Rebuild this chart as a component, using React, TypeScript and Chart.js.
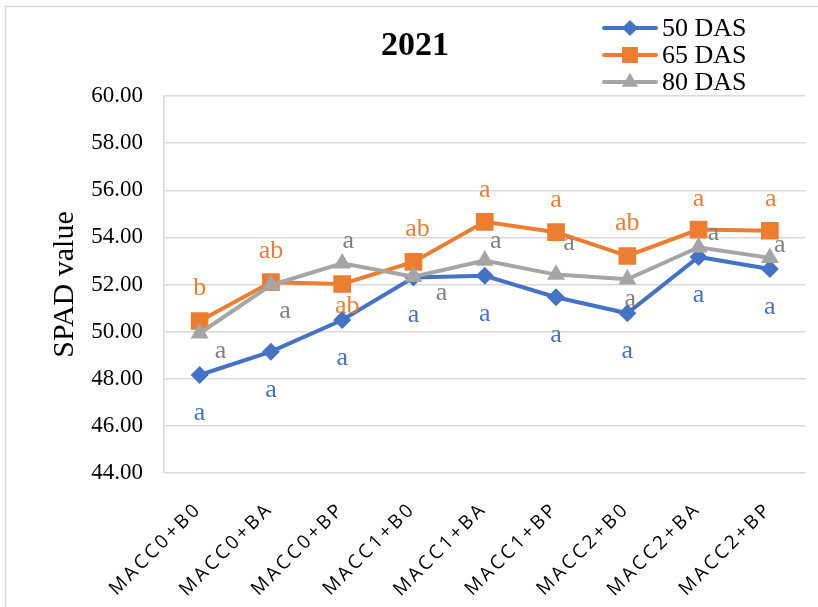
import React, { useEffect, useRef } from 'react';
import { Chart, registerables } from 'chart.js';

Chart.register(...registerables);

// ---- data ----
const categories = ['MACC0+B0', 'MACC0+BA', 'MACC0+BP', 'MACC1+B0', 'MACC1+BA', 'MACC1+BP', 'MACC2+B0', 'MACC2+BA', 'MACC2+BP'];
const yTicks = { min: 44, max: 60, step: 2 };
const chartTitle = '2021';
const yAxisTitle = 'SPAD value';

const das50 = [48.16, 49.15, 50.49, 52.3, 52.37, 51.46, 50.78, 53.17, 52.66];
const das65 = [50.45, 52.1, 52.02, 52.96, 54.66, 54.22, 53.21, 54.33, 54.28];
const das80 = [49.93, 51.98, 52.9, 52.33, 53.02, 52.42, 52.22, 53.58, 53.13];

const letters50 = ['a', 'a', 'a', 'a', 'a', 'a', 'a', 'a', 'a'];
const letters65 = ['b', 'ab', 'ab', 'ab', 'a', 'a', 'ab', 'a', 'a'];
const letters80 = ['a', 'a', 'a', 'a', 'a', 'a', 'a', 'a', 'a'];

// ---- label placement (pixel offsets from each point, layout only) ----
const lblDx50 = [0, 0, 0, 0, 0, 0, 0, 0, 0];
const lblDy50 = [45, 45, 45, 45, 45, 45, 45, 45, 45];
const lblDx65 = [0, 0, 5, 4, 0, 0, 0, 0, 1];
const lblDy65 = [-26, -24, 29, -26, -25, -25, -26, -24, -25];
const lblDx80 = [21, 14, 6, 28, 11, 13, 3, 15, 10];
const lblDy80 = [25, 33, -15, 23, -12, -25, 27, -7, -6];

const SERIF = '"Liberation Serif", "Times New Roman", serif';
const SANS = '"Open Sans", "Noto Sans", sans-serif';

type Series = {
  label: string;
  data: number[];
  color: string;
  textColor: string;
  style: 'rectRot' | 'rect' | 'triangle';
  radius: number;
  letters: string[];
  dx: number[];
  dy: number[];
};

const series: Series[] = [
  { label: '50 DAS', data: das50, color: '#4472C4', textColor: '#4472C4', style: 'rectRot', radius: 9, letters: letters50, dx: lblDx50, dy: lblDy50 },
  { label: '65 DAS', data: das65, color: '#ED7D31', textColor: '#ED7D31', style: 'rect', radius: 12.5, letters: letters65, dx: lblDx65, dy: lblDy65 },
  { label: '80 DAS', data: das80, color: '#A5A5A5', textColor: '#808080', style: 'triangle', radius: 10.4, letters: letters80, dx: lblDx80, dy: lblDy80 },
];

function drawMarker(ctx: CanvasRenderingContext2D, style: string, x: number, y: number, r: number, color: string) {
  ctx.save();
  ctx.fillStyle = color;
  ctx.beginPath();
  if (style === 'rectRot') {
    ctx.moveTo(x - r, y);
    ctx.lineTo(x, y - r);
    ctx.lineTo(x + r, y);
    ctx.lineTo(x, y + r);
  } else if (style === 'rect') {
    const s = Math.SQRT1_2 * r;
    ctx.rect(x - s, y - s, 2 * s, 2 * s);
  } else {
    const h = r * Math.sin(Math.PI / 3);
    ctx.moveTo(x, y - r);
    ctx.lineTo(x + h, y + r / 2);
    ctx.lineTo(x - h, y + r / 2);
  }
  ctx.closePath();
  ctx.fill();
  ctx.restore();
}

export default function App() {
  const ref = useRef<HTMLCanvasElement>(null);

  useEffect(() => {
    const canvas = ref.current;
    if (!canvas) return;

    const framePlugin = {
      id: 'frame',
      beforeDraw(chart: any) {
        const ctx = chart.ctx as CanvasRenderingContext2D;
        ctx.save();
        ctx.fillStyle = '#ffffff';
        ctx.fillRect(0, 0, chart.width, chart.height);
        ctx.strokeStyle = '#D9D9D9';
        ctx.lineWidth = 1.5;
        ctx.beginPath();
        ctx.moveTo(5.5, chart.height + 5);
        ctx.lineTo(5.5, 6.5);
        ctx.lineTo(chart.width + 5, 6.5);
        ctx.stroke();
        ctx.restore();
      },
    };

    const labelsPlugin = {
      id: 'pointLetters',
      afterDatasetsDraw(chart: any) {
        const ctx = chart.ctx as CanvasRenderingContext2D;
        ctx.save();
        ctx.font = `26px ${SERIF}`;
        ctx.textAlign = 'center';
        ctx.textBaseline = 'alphabetic';
        series.forEach((s, di) => {
          const meta = chart.getDatasetMeta(di);
          meta.data.forEach((pt: any, i: number) => {
            ctx.fillStyle = s.textColor;
            ctx.fillText(s.letters[i], pt.x + s.dx[i], pt.y + s.dy[i]);
          });
        });
        ctx.restore();
      },
    };

    const decorPlugin = {
      id: 'decor',
      afterDraw(chart: any) {
        const ctx = chart.ctx as CanvasRenderingContext2D;
        const area = chart.chartArea;
        // title
        ctx.save();
        ctx.fillStyle = '#000';
        ctx.font = `bold 34px ${SERIF}`;
        ctx.textAlign = 'center';
        ctx.textBaseline = 'alphabetic';
        ctx.fillText(chartTitle, 415, 55);
        ctx.restore();

        // legend
        ctx.save();
        series.forEach((s, i) => {
          const y = 28 + i * 27;
          ctx.strokeStyle = s.color;
          ctx.lineWidth = 4;
          ctx.lineCap = 'round';
          ctx.beginPath();
          ctx.moveTo(604, y);
          ctx.lineTo(656, y);
          ctx.stroke();
          drawMarker(ctx, s.style, 630, y, s.radius * 0.9, s.color);
          ctx.fillStyle = '#000';
          ctx.font = `26px ${SERIF}`;
          ctx.textAlign = 'left';
          ctx.textBaseline = 'alphabetic';
          ctx.fillText(s.label, 662, y + 8);
        });
        ctx.restore();

        // rotated category labels
        const xs = chart.scales.x;
        ctx.save();
        ctx.fillStyle = '#000';
        ctx.font = `19px ${SANS}`;
        const spacing = 3;
        (ctx as any).letterSpacing = `${spacing}px`;
        ctx.textAlign = 'right';
        ctx.textBaseline = 'middle';
        categories.forEach((c, i) => {
          const x = xs.getPixelForValue(i);
          ctx.save();
          ctx.translate(x - 3, area.bottom + 35);
          ctx.rotate(-Math.PI / 4);
          ctx.fillText(c, spacing, 0);
          ctx.restore();
        });
        ctx.restore();
      },
    };

    const chart = new Chart(canvas, {
      type: 'line',
      data: {
        labels: categories,
        datasets: series.map((s, i) => ({
          label: s.label,
          data: s.data,
          borderColor: s.color,
          backgroundColor: s.color,
          borderWidth: 4,
          pointStyle: s.style,
          pointRadius: s.radius,
          pointHoverRadius: s.radius,
          pointBorderWidth: 0,
          pointBackgroundColor: s.color,
          tension: 0,
          fill: false,
          order: series.length - i,
        })),
      },
      options: {
        animation: false,
        responsive: true,
        maintainAspectRatio: false,
        layout: { padding: { left: 0, top: 96, right: 1, bottom: 134 } },
        plugins: {
          legend: { display: false },
          tooltip: { enabled: false },
          title: { display: false },
        },
        scales: {
          x: {
            type: 'category',
            offset: true,
            grid: { display: false, drawTicks: false },
            border: { display: false },
            ticks: { display: false },
          },
          y: {
            min: yTicks.min,
            max: yTicks.max,
            ticks: {
              stepSize: yTicks.step,
              callback: (v: any) => Number(v).toFixed(2),
              font: { family: SERIF, size: 23 },
              color: '#000',
              padding: 21,
            },
            grid: { color: '#D9D9D9', lineWidth: 1.5, drawTicks: false },
            border: { display: true, color: '#D9D9D9', width: 1.5 },
            title: {
              display: true,
              text: yAxisTitle,
              font: { family: SERIF, size: 30 },
              color: '#000',
              padding: { top: 47, bottom: 0 },
            },
            afterFit: (scale: any) => {
              scale.width = 164;
            },
          },
        },
      },
      plugins: [framePlugin, labelsPlugin, decorPlugin],
    } as any);

    return () => chart.destroy();
  }, []);

  return (
    <div style={{ position: 'fixed', left: 0, top: 0, width: 818, height: 607, background: '#fff' }}>
      <canvas ref={ref} />
    </div>
  );
}
